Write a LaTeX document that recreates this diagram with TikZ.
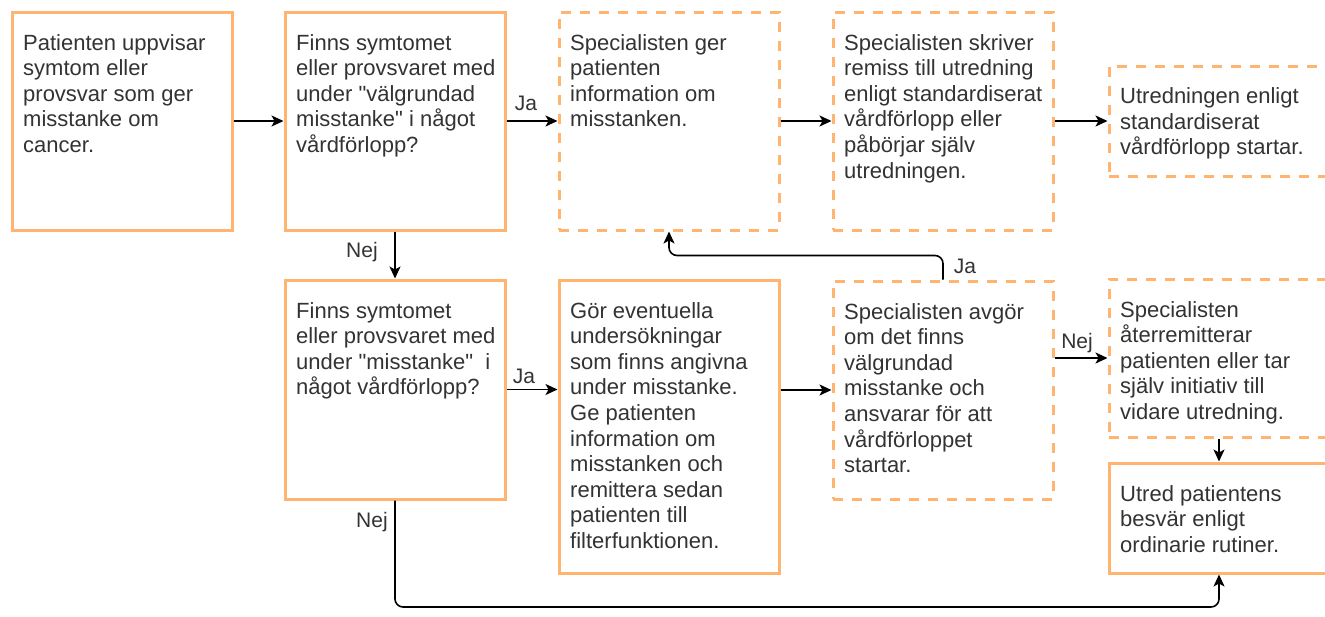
\documentclass[tikz,border=0pt]{standalone}
\usepackage{fontspec}
\newfontfamily\lib{Liberation Sans}
\usetikzlibrary{arrows.meta,calc}
\definecolor{orangec}{HTML}{FFB570}
\definecolor{textc}{HTML}{333333}
\begin{document}
\begin{tikzpicture}[x=1pt,y=-1pt,
  box/.style={draw=orangec, line width=3pt, minimum width=220pt, minimum height=#1, inner sep=0pt, fill=white},
  dbox/.style={box=#1, dash pattern=on 10pt off 9pt},
  txt/.style={anchor=north west, inner sep=0pt, align=left, font=\lib\fontsize{22}{25.6}\selectfont, text=textc},
  lbl/.style={anchor=base, inner sep=0pt, font=\lib\fontsize{21}{24}\selectfont, text=textc},
  arr/.style={draw=black, line width=1.6pt, -{Stealth[length=12pt,width=11pt,inset=3pt]}}]
\useasboundingbox (0,0) rectangle (1325,616);
\clip (0,0) rectangle (1325,616);
\fill[white] (0,0) rectangle (1325,616);

% top row
\node[box=218pt] (A) at (122,121) {};
\node[box=218pt] (B) at (395,121) {};
\node[dbox=218pt] (C) at (669,121) {};
\node[dbox=218pt] (D) at (943,121) {};
\node[dbox=110pt] (E) at (1219,121) {};
% bottom row
\node[box=219pt] (F) at (395,389.5) {};
\node[box=293pt] (G) at (669,426.5) {};
\node[dbox=218pt] (H) at (943,390) {};
\node[dbox=158pt] (I) at (1219,358) {};
\node[box=110pt] (J) at (1219,518) {};

% texts
\node[txt] (At) at ($(A.north west)+(12.5,21.5)$) {\strut Patienten uppvisar\\symtom eller\\provsvar som ger\\misstanke om\\cancer.};
\node[txt] (Bt) at ($(B.north west)+(12.5,21.5)$) {\strut Finns symtomet\\eller provsvaret med\\under "välgrundad\\misstanke" i något\\vårdförlopp?};
\node[txt] (Ct) at ($(C.north west)+(12.5,21.5)$) {\strut Specialisten ger\\patienten\\information om\\misstanken.};
\node[txt] (Dt) at ($(D.north west)+(12.5,21.5)$) {\strut Specialisten skriver\\remiss till utredning\\enligt standardiserat\\vårdförlopp eller\\påbörjar själv\\utredningen.};
\node[txt] (Et) at ($(E.north west)+(12.5,21)$) {\strut Utredningen enligt\\standardiserat\\vårdförlopp startar.};
\node[txt] (Ft) at ($(F.north west)+(12.5,21.5)$) {\strut Finns symtomet\\eller provsvaret med\\under "misstanke"\ \ i\\något vårdförlopp?};
\node[txt] (Gt) at ($(G.north west)+(12.5,21.5)$) {\strut Gör eventuella\\undersökningar\\som finns angivna\\under misstanke.\\Ge patienten\\information om\\misstanken och\\remittera sedan\\patienten till\\filterfunktionen.};
\node[txt] (Ht) at ($(H.north west)+(12.5,21.5)$) {\strut Specialisten avgör\\om det finns\\välgrundad\\misstanke och\\ansvarar för att\\vårdförloppet\\startar.};
\node[txt] (It) at ($(I.north west)+(12.5,21.5)$) {\strut Specialisten\\återremitterar\\patienten eller tar\\själv initiativ till\\vidare utredning.};
\node[txt] (Jt) at ($(J.north west)+(12.5,21.5)$) {\strut Utred patientens\\besvär enligt\\ordinarie rutiner.};

% connectors
\coordinate (bot) at (0,607);
\draw[arr] (A) -- (B);
\draw[arr] (B) -- (C);
\draw[arr] (C) -- (D);
\draw[arr] (D) -- (E);
\draw[arr] (B) -- (F);
\draw[arr] (F.east) -- (F.east -| G.west);
\draw[arr] (H.west -| G.east) -- (H.west);
\draw[arr] (H.east |- I.west) -- (I.west);
\draw[arr] (I) -- (J);
\draw[arr, rounded corners=8pt] (H.north) -- ($(H.north)+(0,-24)$) -| (C.south);
\draw[arr, rounded corners=8pt] (F.south) -- (F.south |- bot) -| (J.south);

% labels
\node[lbl] (l1) at (526,110) {Ja};
\node[lbl] (l2) at (362,257) {Nej};
\node[lbl] (l3) at (524,383) {Ja};
\node[lbl] (l4) at (1077,348) {Nej};
\node[lbl] (l5) at (965,273) {Ja};
\node[lbl] (l6) at (372,527) {Nej};
\end{tikzpicture}
\end{document}
